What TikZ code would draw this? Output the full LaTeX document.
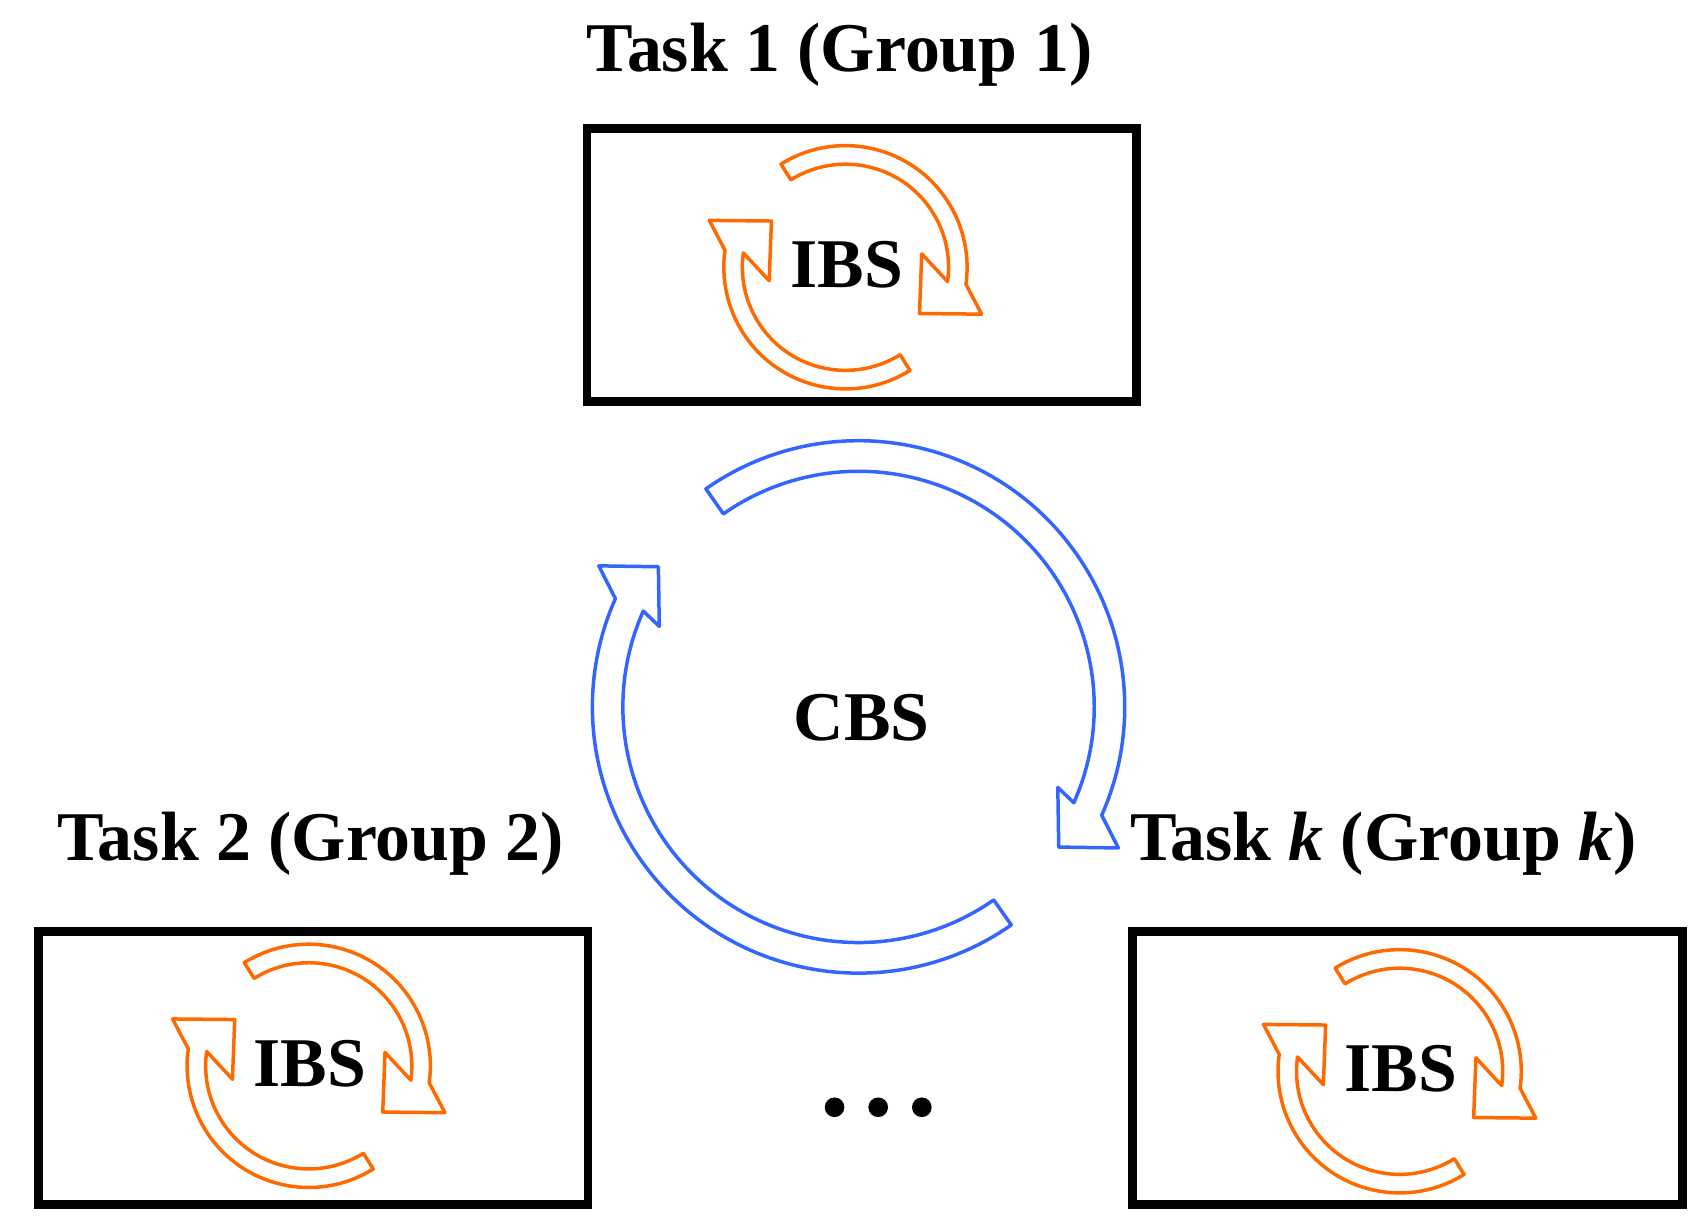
\documentclass[tikz,border=0pt]{standalone}
\usepackage{fontspec}
\setmainfont{Liberation Serif}
\definecolor{org}{HTML}{FF6A00}
\definecolor{blu}{HTML}{3366FF}
\begin{document}
\begin{tikzpicture}[x=0.5pt,y=0.5pt,
  box/.style={draw,line width=4pt,minimum width=252pt,minimum height=125pt,anchor=north west,inner sep=0},
  ttl/.style={font=\fontsize{32}{34}\selectfont\bfseries},
  onearrow/.pic={
    \pgfmathsetmacro\ro{(\Rm+\W/2)*0.5}
    \pgfmathsetmacro\ri{(\Rm-\W/2)*0.5}
    \draw[line join=round]
      (\Ts:\Rm+\W/2) arc[start angle=\Ts, end angle=\Te, radius=\ro pt]
      -- (\Wb) -- (\Tip) -- (\Wa) -- (\Te:\Rm-\W/2)
      arc[start angle=\Te, end angle=\Ts, radius=\ri pt] -- cycle;
  },
  cyc/.pic={
    \pic {onearrow};
    \pic[rotate=180] {onearrow};
  }]
\useasboundingbox (0,0) rectangle (1562,-1128);
\node[box] (b1) at (534,-114) {};
\node[box] (b2) at (31,-850) {};
\node[box] (b3) at (1034,-850) {};
\node[ttl] (t1) at (770,-50) {Task 1 (Group 1)};
\node[ttl] (t2) at (285,-773) {Task 2 (Group 2)};
\node[ttl] (t3) at (1268,-773) {Task \textit{k} (Group \textit{k})};
\node[ttl] (i1) at (776,-243) {IBS};
\node[ttl] (i2) at (284,-975) {IBS};
\node[ttl] (i3) at (1284,-980) {IBS};
\node[ttl] (cbs) at (790,-658) {CBS};
\def\Rm{103}\def\W{17}\def\Ts{122}\def\Te{-8}
\def\Wa{10:71}\def\Wb{-19:132}\def\Tip{-32:80}
\begin{scope}[draw=org,line width=1.6pt]
\pic at (775,-245) {cyc};
\pic at (283,-977) {cyc};
\pic at (1283,-982) {cyc};
\end{scope}
\def\Rm{230}\def\W{28}\def\Ts{125}\def\Te{-24}
\def\Wa{-22:197}\def\Wb{-28.5:271}\def\Tip{-35:224}
\begin{scope}[draw=blu,line width=1.6pt]
\pic at (787,-648) {cyc};
\end{scope}
\foreach \i/\xx in {1/765,2/805,3/845}
  \fill (\xx,-1015) circle (9);
\end{tikzpicture}
\end{document}
